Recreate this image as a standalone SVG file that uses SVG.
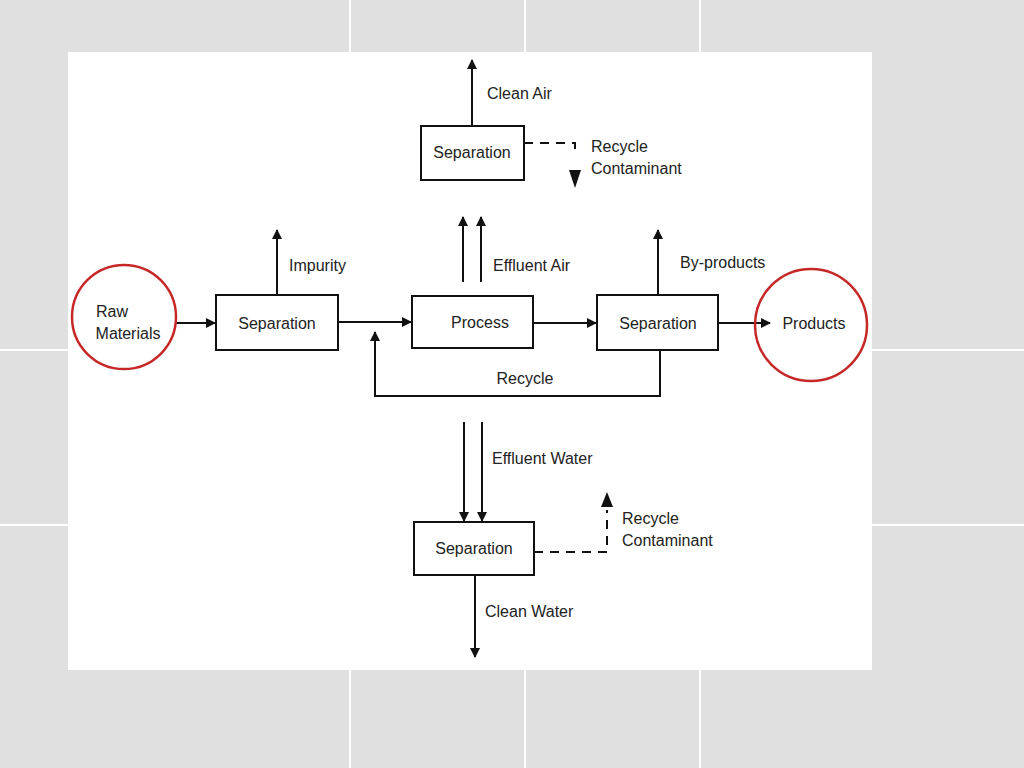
<svg xmlns="http://www.w3.org/2000/svg" width="1024" height="768" viewBox="0 0 1024 768">
<defs>
<marker id="ah" markerWidth="10" markerHeight="10" refX="9" refY="5" orient="auto" markerUnits="userSpaceOnUse"><path d="M0,0 L10,5 L0,10 z" fill="#111"/></marker>
</defs>
<style>
.box{fill:#fff;stroke:#111;stroke-width:2}
.ln{stroke:#111;stroke-width:2;fill:none}
.ar{stroke:#111;stroke-width:2;fill:none;marker-end:url(#ah)}
.dash{stroke:#111;stroke-width:2;fill:none;stroke-dasharray:9,7}
text{font-family:"Liberation Sans",Arial,sans-serif;font-size:16px;fill:#222}
.c{text-anchor:middle}
.circ{fill:none;stroke:#c62828;stroke-width:2.5}
</style>
<rect width="1024" height="768" fill="#e0e0e0"/>
<g stroke="#fff" stroke-width="2"><line x1="350" y1="0" x2="350" y2="768"/><line x1="525" y1="0" x2="525" y2="768"/><line x1="700" y1="0" x2="700" y2="768"/><line x1="0" y1="350" x2="1024" y2="350"/><line x1="0" y1="525" x2="1024" y2="525"/></g>
<rect x="68" y="52" width="804" height="618" fill="#fff"/>
<g id="connectors">
<path class="ar" d="M472,126 V60"/>
<path class="dash" d="M524,143 H575 V155"/>
<path d="M569,170 L581,170 L575,188 z" fill="#111"/>
<path class="ar" d="M277,295 V230"/>
<path class="ar" d="M176,323 H215"/>
<path class="ar" d="M338,322 H411"/>
<path class="ar" d="M463,282 V217"/>
<path class="ar" d="M481,282 V217"/>
<path class="ar" d="M533,323 H596"/>
<path class="ar" d="M658,295 V230"/>
<path class="ar" d="M718,323 H770"/>
<path class="ar" d="M660,350 V396 H375 V332"/>
<path class="ar" d="M464,422 V521"/>
<path class="ar" d="M482,422 V521"/>
<path class="dash" d="M534,552 H607 V510"/>
<path d="M601,507 L613,507 L607,492 z" fill="#111"/>
<path class="ar" d="M475,575 V657"/>
</g>
<g id="sep_top"><rect class="box" x="421" y="126" width="103" height="54"/><text class="c" x="472" y="158">Separation</text></g>
<g id="raw"><circle class="circ" cx="124" cy="317" r="52"/><text class="c" x="112" y="317">Raw</text><text class="c" x="128" y="339">Materials</text></g>
<g id="sep_left"><rect class="box" x="216" y="295" width="122" height="55"/><text class="c" x="277" y="329">Separation</text></g>
<g id="process"><rect class="box" x="412" y="296" width="121" height="52"/><text class="c" x="480" y="328">Process</text></g>
<g id="sep_right"><rect class="box" x="597" y="295" width="121" height="55"/><text class="c" x="658" y="329">Separation</text></g>
<g id="products"><circle class="circ" cx="811" cy="325" r="56"/><text class="c" x="814" y="329">Products</text></g>
<g id="sep_bottom"><rect class="box" x="414" y="522" width="120" height="53"/><text class="c" x="474" y="554">Separation</text></g>
<g id="labels">
<text x="487" y="99">Clean Air</text>
<text x="591" y="152">Recycle</text>
<text x="591" y="174">Contaminant</text>
<text x="289" y="271">Impurity</text>
<text x="493" y="271">Effluent Air</text>
<text x="680" y="268">By-products</text>
<text class="c" x="525" y="384">Recycle</text>
<text x="492" y="464">Effluent Water</text>
<text x="622" y="524">Recycle</text>
<text x="622" y="546">Contaminant</text>
<text x="485" y="617">Clean Water</text>
</g>
</svg>
